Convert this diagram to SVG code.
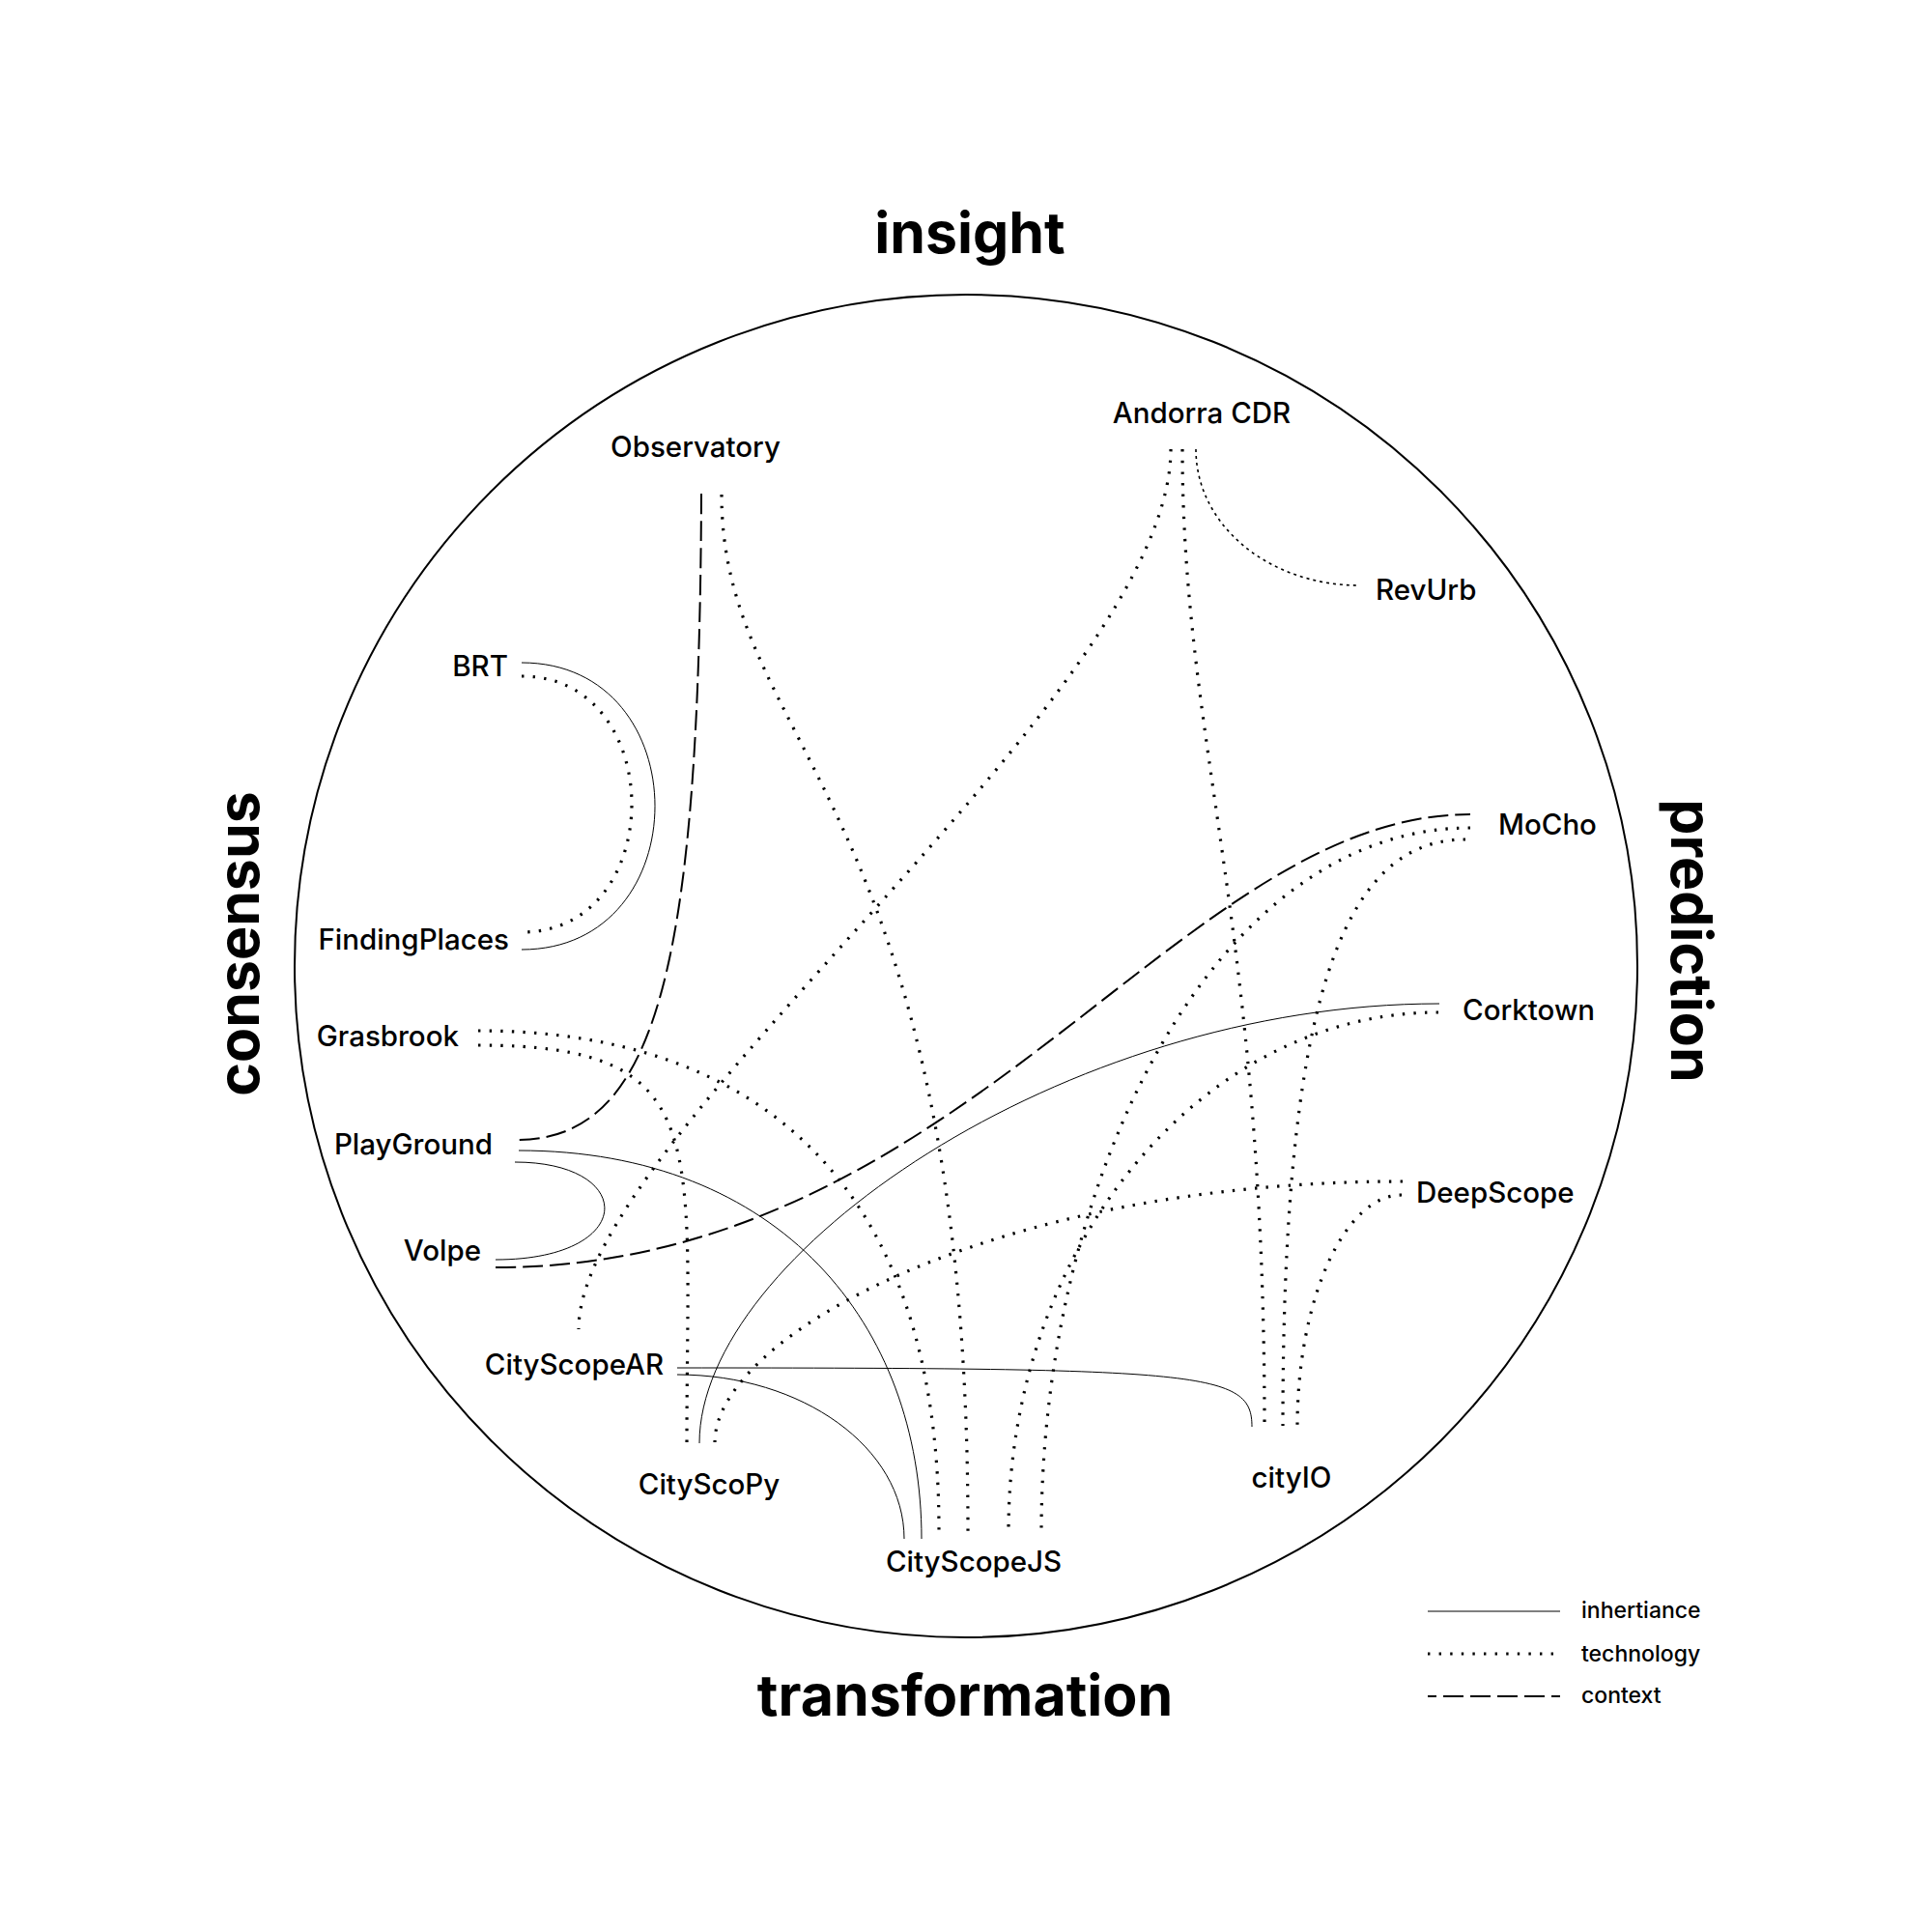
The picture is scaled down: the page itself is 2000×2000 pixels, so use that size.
<svg xmlns="http://www.w3.org/2000/svg" width="2000" height="2000" viewBox="0 0 2000 2000">
<style>
text{font-family:Inter,"Liberation Sans","DejaVu Sans",sans-serif;fill:#000}
.lbl{font-size:29.5px;font-weight:500}
.title{font-size:59px;font-weight:700}
.leg{font-size:23px;font-weight:500}
.inh{fill:none;stroke:#000;stroke-width:1}
.tech{fill:none;stroke:#000;stroke-width:3.2;stroke-dasharray:2.4 9.2}
.fine{fill:none;stroke:#000;stroke-width:1.6;stroke-dasharray:3 4}
.ctx{fill:none;stroke:#000;stroke-width:2;stroke-dasharray:21 7}
</style>
<rect width="2000" height="2000" fill="#fff"/>
<circle id="frame" cx="1000" cy="1000" r="695" fill="none" stroke="#000" stroke-width="2"/>
<g id="titles">
<text class="title" x="1004" y="262" text-anchor="middle">insight</text>
<text class="title" x="999" y="1776" text-anchor="middle">transformation</text>
<text class="title" text-anchor="middle" transform="translate(268,977) rotate(-90)">consensus</text>
<text class="title" text-anchor="middle" transform="translate(1730,974) rotate(90)">prediction</text>
</g>
<g id="connectors">
<path class="inh" d="M540,686 C724,686 724,983 540,983"/>
<path class="tech" d="M540,700 C692,700 692,965 540,965"/>
<path class="inh" d="M533,1203 C660,1203 660,1304 513,1304"/>
<path class="inh" d="M537,1191 C808,1191 954,1372 954,1593"/>
<path class="inh" d="M1490,1039 C1100,1039 724,1300 724,1494"/>
<path class="inh" d="M701,1416 C1250,1416 1296,1420 1296,1477"/>
<path class="inh" d="M701,1423 C831,1423 936,1499 936,1593"/>
<path class="tech" d="M747,512 C747,772 1002,828 1002,1585"/>
<path class="tech" d="M1212,465 C1212,720 599,1176 599,1376"/>
<path class="tech" d="M1224,465 C1224,768 1309,960 1309,1476"/>
<path class="fine" d="M1238,465 C1238,544 1314,606 1407,606"/>
<path class="tech" d="M1522,857 C1256,857 1078,1222 1078,1586"/>
<path class="tech" d="M1517,869 C1385,869 1328,1051 1328,1476"/>
<path class="tech" d="M1489,1048 C1244,1048 1044,1290 1044,1585"/>
<path class="tech" d="M1452,1223 C1025,1223 740,1385 740,1493"/>
<path class="tech" d="M1451,1237 C1392,1237 1343,1345 1343,1476"/>
<path class="tech" d="M495,1067 C781,1067 972,1222 972,1584"/>
<path class="tech" d="M495,1082 C740,1082 711,1180 711,1494"/>
<path class="ctx" d="M726,511 C724,1000 680,1180 535,1180"/>
<path class="ctx" d="M513,1312 C1000,1312 1220,843 1522,843"/>
</g>
<g id="node-observatory"><text class="lbl" x="720" y="473" text-anchor="middle">Observatory</text></g>
<g id="node-andorra"><text class="lbl" x="1244" y="438" text-anchor="middle">Andorra CDR</text></g>
<g id="node-revurb"><text class="lbl" x="1424" y="621">RevUrb</text></g>
<g id="node-brt"><text class="lbl" x="526" y="700" text-anchor="end">BRT</text></g>
<g id="node-mocho"><text class="lbl" x="1551" y="864">MoCho</text></g>
<g id="node-findingplaces"><text class="lbl" x="527" y="983" text-anchor="end">FindingPlaces</text></g>
<g id="node-corktown"><text class="lbl" x="1514" y="1056">Corktown</text></g>
<g id="node-grasbrook"><text class="lbl" x="475" y="1083" text-anchor="end">Grasbrook</text></g>
<g id="node-playground"><text class="lbl" x="510" y="1195" text-anchor="end">PlayGround</text></g>
<g id="node-deepscope"><text class="lbl" x="1466" y="1245">DeepScope</text></g>
<g id="node-volpe"><text class="lbl" x="498" y="1305" text-anchor="end">Volpe</text></g>
<g id="node-cityscopear"><text class="lbl" x="687" y="1423" text-anchor="end">CityScopeAR</text></g>
<g id="node-cityscopy"><text class="lbl" x="734" y="1547" text-anchor="middle">CityScoPy</text></g>
<g id="node-cityio"><text class="lbl" x="1337" y="1540" text-anchor="middle">cityIO</text></g>
<g id="node-cityscopejs"><text class="lbl" x="1008" y="1627" text-anchor="middle">CityScopeJS</text></g>
<g id="legend">
<line class="inh" x1="1478" y1="1668" x2="1615" y2="1668"/>
<line class="tech" x1="1478" y1="1712" x2="1615" y2="1712"/>
<line class="ctx" x1="1478" y1="1756" x2="1615" y2="1756" stroke-dashoffset="12"/>
<text class="leg" x="1637" y="1675">inhertiance</text>
<text class="leg" x="1637" y="1720">technology</text>
<text class="leg" x="1637" y="1763">context</text>
</g>
</svg>
